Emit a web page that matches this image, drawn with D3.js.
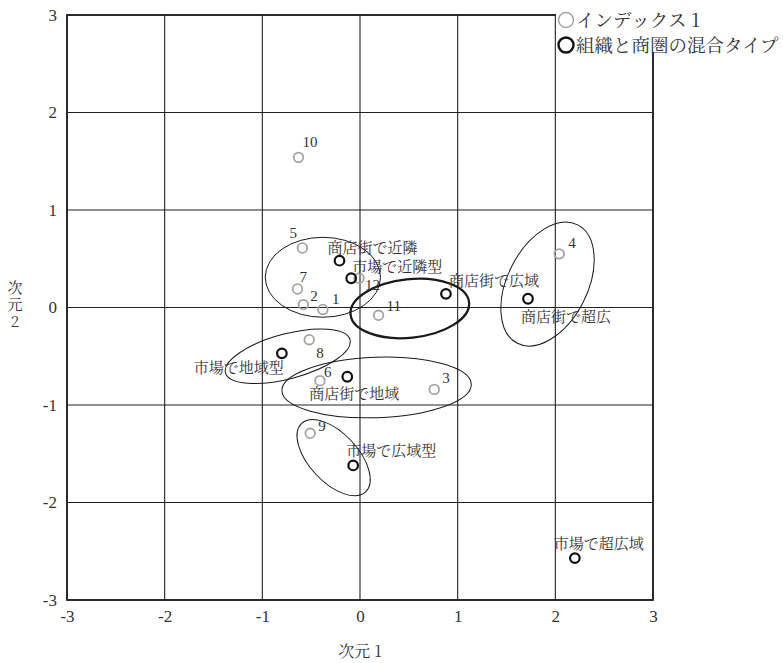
<!DOCTYPE html>
<html lang="ja">
<head>
<meta charset="utf-8">
<script src="https://cdn.jsdelivr.net/npm/d3@7"></script>
<style>
  html, body { margin: 0; padding: 0; background: #fff; }
  svg { display: block; }
  .jp { font-family: "Noto Serif CJK JP", "Noto Sans CJK JP", serif; fill: #333; }
  .num { font-family: "Liberation Serif", "DejaVu Serif", serif; fill: #333; }
</style>
</head>
<body>
<svg id="chart" width="783" height="663"></svg>
<script>
// Index points (gray) — dimension 1 / dimension 2
const indexNames = ["1", "2", "3", "4", "5", "6", "7", "8", "9", "10", "11", "12"];
const indexDim1 = [-0.38, -0.58, 0.76, 2.04, -0.59, -0.41, -0.64, -0.52, -0.51, -0.63, 0.19, -0.01];
const indexDim2 = [-0.02, 0.03, -0.84, 0.55, 0.61, -0.75, 0.19, -0.33, -1.29, 1.54, -0.08, 0.30];

// Mixed organisation / trade-area types (black)
const typeNames = ["商店街で近隣", "市場で近隣型", "商店街で広域", "商店街で超広",
                   "市場で地域型", "商店街で地域", "市場で広域型", "市場で超広域"];
const typeDim1 = [-0.21, -0.09, 0.88, 1.72, -0.80, -0.13, -0.07, 2.20];
const typeDim2 = [0.48, 0.30, 0.14, 0.09, -0.47, -0.71, -1.62, -2.57];

// Grouping ellipses: centre, semi-axes (dimension units), rotation (degrees, counter-clockwise)
const ellipseCx = [-0.38, 0.51, 1.92, -0.74, 0.17, -0.27];
const ellipseCy = [0.31, -0.01, 0.24, -0.50, -0.82, -1.54];
const ellipseRx = [0.59, 0.61, 0.68, 0.66, 0.97, 0.48];
const ellipseRy = [0.41, 0.30, 0.41, 0.23, 0.31, 0.25];
const ellipseAngle = [0, 6, 63, 15, 2, -47];
const ellipseBold = [false, true, false, false, false, false];

const tickValues = [-3, -2, -1, 0, 1, 2, 3];
const legendLabels = ["インデックス 1", "組織と商圏の混合タイプ"];

// Label placement (pixels relative to each marker)
const indexLabelOffset = {
  "1": [9, -5], "2": [7, -4], "3": [8, -6], "4": [9, -6], "5": [-13, -10], "6": [4, -4],
  "7": [2, -7], "8": [7, 18], "9": [8, -2], "10": [4, -10], "11": [8, -4], "12": [6, 12]
};
const typeLabelOffset = {
  "商店街で近隣": [-12, -8, "start"], "市場で近隣型": [1, -6, "start"],
  "商店街で広域": [3, -8, "start"], "商店街で超広": [-7, 23, "start"],
  "市場で地域型": [2, 20, "end"], "商店街で地域": [-38, 22, "start"],
  "市場で広域型": [-7, -9, "start"], "市場で超広域": [-21, -9, "start"]
};

const svg = d3.select("#chart");
const x = d3.scaleLinear().domain([-3, 3]).range([67, 653]);
const y = d3.scaleLinear().domain([-3, 3]).range([600, 15]);
const plotLeft = 67, plotRight = 653, plotTop = 15, plotBottom = 600;

// grid
const grid = svg.append("g");
grid.selectAll("line.v").data(tickValues).join("line")
  .attr("x1", d => x(d)).attr("x2", d => x(d)).attr("y1", plotTop).attr("y2", plotBottom)
  .attr("stroke", "#222").attr("stroke-width", 1.1);
grid.selectAll("line.h").data(tickValues).join("line")
  .attr("x1", plotLeft).attr("x2", plotRight).attr("y1", d => y(d)).attr("y2", d => y(d))
  .attr("stroke", "#222").attr("stroke-width", 1.1);
// frame
grid.append("rect").attr("x", plotLeft).attr("y", plotTop)
  .attr("width", plotRight - plotLeft).attr("height", plotBottom - plotTop)
  .attr("fill", "none").attr("stroke", "#222").attr("stroke-width", 1.8);

// tick labels via axes
const fmt = d => d < 0 ? "-" + Math.abs(d) : String(d);
const xAxis = svg.append("g").attr("transform", `translate(0,${plotBottom})`)
  .call(d3.axisBottom(x).tickValues(tickValues).tickSize(0).tickPadding(10).tickFormat(fmt));
const yAxis = svg.append("g").attr("transform", `translate(${plotLeft},0)`)
  .call(d3.axisLeft(y).tickValues(tickValues).tickSize(0).tickPadding(10).tickFormat(fmt));
[xAxis, yAxis].forEach(a => {
  a.select(".domain").remove();
  a.selectAll("text").attr("class", "num").style("font-size", "17px").attr("fill", "#333");
});

// axis titles
svg.append("text").attr("class", "jp").attr("x", 360).attr("y", 657)
  .attr("text-anchor", "middle").style("font-size", "16px").text("次元 1");
svg.append("text").attr("class", "jp")
  .attr("x", 15).attr("y", 280)
  .style("writing-mode", "vertical-rl").style("text-orientation", "upright")
  .style("font-size", "15px").style("letter-spacing", "2px")
  .text("次元2");

// ellipses
const kx = x(1) - x(0), ky = y(0) - y(1);
svg.append("g").selectAll("ellipse").data(ellipseCx.map((c, i) => i)).join("ellipse")
  .attr("cx", i => x(ellipseCx[i])).attr("cy", i => y(ellipseCy[i]))
  .attr("rx", i => ellipseRx[i] * kx).attr("ry", i => ellipseRy[i] * ky)
  .attr("transform", i => `rotate(${-ellipseAngle[i]},${x(ellipseCx[i])},${y(ellipseCy[i])})`)
  .attr("fill", "none").attr("stroke", "#1a1a1a")
  .attr("stroke-width", i => ellipseBold[i] ? 2.3 : 1);

// index points
const idx = indexNames.map((n, i) => ({ n, a: indexDim1[i], b: indexDim2[i] }));
svg.append("g").selectAll("circle").data(idx).join("circle")
  .attr("cx", d => x(d.a)).attr("cy", d => y(d.b)).attr("r", 4.8)
  .attr("fill", "none").attr("stroke", "#a3a3a3").attr("stroke-width", 1.8);
svg.append("g").selectAll("text").data(idx).join("text")
  .attr("class", "num").style("font-size", "15px").attr("fill", "#444")
  .attr("x", d => x(d.a) + indexLabelOffset[d.n][0])
  .attr("y", d => y(d.b) + indexLabelOffset[d.n][1])
  .text(d => d.n);

// type points
const typ = typeNames.map((n, i) => ({ n, a: typeDim1[i], b: typeDim2[i] }));
svg.append("g").selectAll("circle").data(typ).join("circle")
  .attr("cx", d => x(d.a)).attr("cy", d => y(d.b)).attr("r", 4.8)
  .attr("fill", "none").attr("stroke", "#111").attr("stroke-width", 2.2);
svg.append("g").selectAll("text").data(typ).join("text")
  .attr("class", "jp").style("font-size", "15px")
  .attr("text-anchor", d => typeLabelOffset[d.n][2])
  .attr("x", d => x(d.a) + typeLabelOffset[d.n][0])
  .attr("y", d => y(d.b) + typeLabelOffset[d.n][1])
  .text(d => d.n);

// legend (covers the top-right corner of the frame)
const lg = svg.append("g");
lg.append("rect").attr("x", 556).attr("y", 0).attr("width", 227).attr("height", 52).attr("fill", "#fff");
const legendStroke = ["#a3a3a3", "#111"], legendWidth = [1.5, 2.4];
legendLabels.forEach((t, i) => {
  const cy = 20 + i * 25;
  lg.append("circle").attr("cx", 566).attr("cy", cy).attr("r", 7.5)
    .attr("fill", "none").attr("stroke", legendStroke[i]).attr("stroke-width", legendWidth[i]);
  lg.append("text").attr("class", "jp").attr("x", 576).attr("y", cy + 6.5)
    .style("font-size", "18.5px").text(t);
});
</script>
</body>
</html>
